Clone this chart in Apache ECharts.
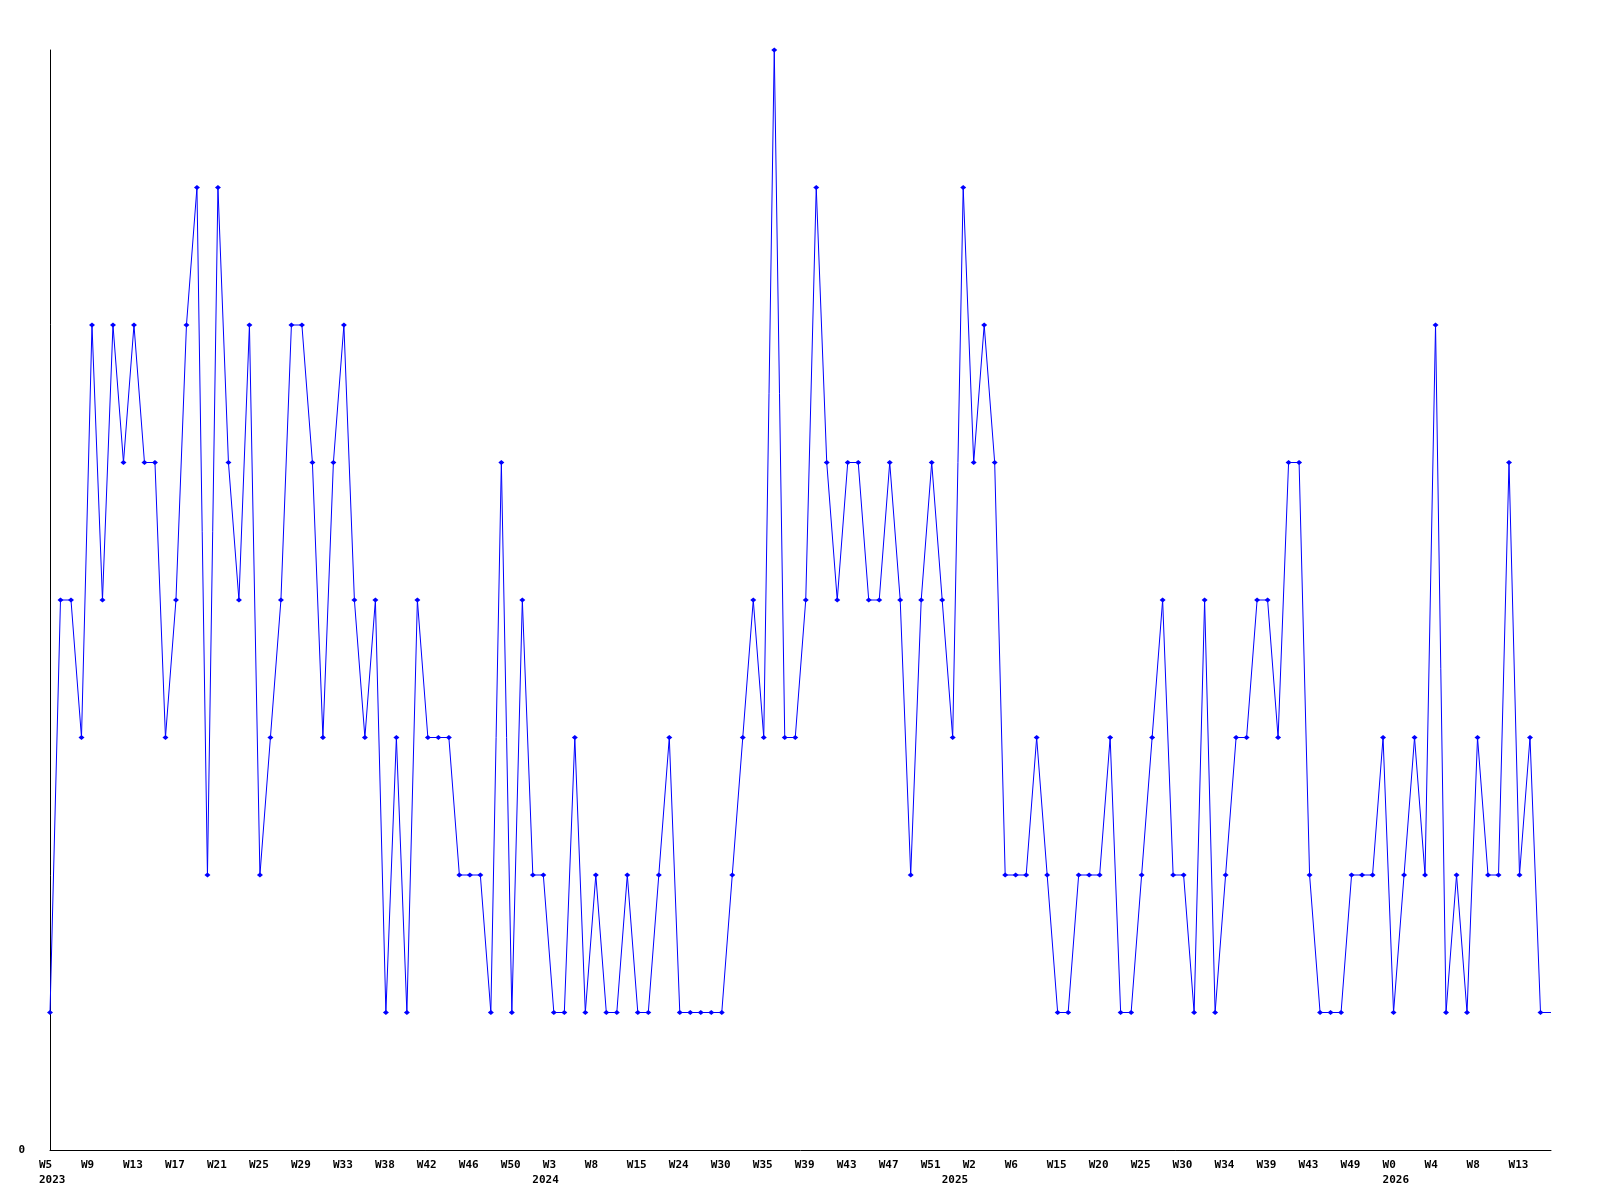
<!DOCTYPE html>
<html>
<head>
<meta charset="utf-8">
<script src="https://cdn.jsdelivr.net/npm/echarts@6/dist/echarts.min.js"></script>
<style>
html,body{margin:0;padding:0;background:#fff;}
#chart{width:1600px;height:1200px;}
</style>
</head>
<body>
<div id="chart"></div>
<script>
// Week numbers of each category
const weeks = [
  5,6,7,8, 9,10,11,12, 13,14,15,16, 17,18,19,20, 21,22,23,24, 25,26,27,28,
  29,30,31,32, 33,34,35,36, 38,39,40,41, 42,43,44,45, 46,47,48,49, 50,51,52,0,
  3,4,5,6, 8,10,12,13, 15,17,19,21, 24,26,27,28, 30,31,32,33, 35,36,37,38,
  39,40,41,42, 43,44,45,46, 47,48,49,50, 51,52,0,1,
  2,3,4,5, 6,8,10,12, 15,17,18,19, 20,21,23,24, 25,26,28,29, 30,31,32,33,
  34,35,37,38, 39,40,41,42, 43,45,47,48, 49,50,51,52,
  0,1,2,3, 4,5,6,7, 8,9,10,12, 13,14,15,16
];
// Year of each category
const years = [].concat(
  Array(47).fill(2023),
  Array(39).fill(2024),
  Array(42).fill(2025),
  Array(16).fill(2026)
);
// Series values
const values = [
  1,4,4,3, 6,4,6,5, 6,5,5,3, 4,6,7,2, 7,5,4,6, 2,3,4,6,
  6,5,3,5, 6,4,3,4, 1,3,1,4, 3,3,3,2, 2,2,1,5, 1,4,2,2,
  1,1,3,1, 2,1,1,2, 1,1,2,3, 1,1,1,1, 1,2,3,4, 3,8,3,3,
  4,7,5,4, 5,5,4,4, 5,4,2,4, 5,4,3,7,
  5,6,5,2, 2,2,3,2, 1,1,2,2, 2,3,1,1, 2,3,4,2, 2,1,4,1,
  2,3,3,4, 4,3,5,5, 2,1,1,1, 2,2,2,3,
  1,2,3,2, 6,1,2,1, 3,2,2,5, 2,3,1,1
];
const yTicks = [0];
const weekLabelStep = 4;

const categories = weeks.map((w, i) => years[i] + '-W' + w);
const seriesData = values.map((v, i) => i === values.length - 1 ? {value: v, symbol: 'none'} : v);
function isYearStart(i) { return i === 0 || years[i] !== years[i - 1]; }

const chart = echarts.init(document.getElementById('chart'), null, {renderer: 'canvas'});
const font = 'DejaVu Sans Mono';
chart.setOption({
  animation: false,
  backgroundColor: '#ffffff',
  grid: {left: 50, right: 49, top: 50, bottom: 50, containLabel: false},
  xAxis: {
    type: 'category',
    data: categories,
    boundaryGap: false,
    axisLine: {show: true, lineStyle: {color: '#000', width: 1}},
    axisTick: {show: false},
    splitLine: {show: false},
    axisLabel: {
      interval: function (idx) { return idx % weekLabelStep === 0 || isYearStart(idx); },
      hideOverlap: false,
      margin: 8,
      color: '#000',
      fontFamily: font,
      fontWeight: 'bold',
      fontSize: 11,
      lineHeight: 15,
      align: 'left',
      verticalAlign: 'top',
      padding: [0, 0, 0, -11],
      formatter: function (val, idx) {
        const w = idx % weekLabelStep === 0 ? 'W' + weeks[idx] : ' ';
        if (isYearStart(idx)) return w + '\n' + years[idx];
        return w;
      }
    }
  },
  yAxis: {
    type: 'value',
    min: 0,
    max: 8,
    interval: 1,
    axisLine: {show: true, lineStyle: {color: '#000', width: 1}},
    axisTick: {show: false},
    splitLine: {show: false},
    axisLabel: {
      margin: 25,
      color: '#000',
      fontFamily: font,
      fontWeight: 'bold',
      fontSize: 11,
      formatter: function (v) { return yTicks.indexOf(v) >= 0 ? String(v) : ''; }
    }
  },
  series: [{
    type: 'line',
    data: seriesData,
    symbol: 'diamond',
    symbolSize: [6, 5],
    showAllSymbol: true,
    lineStyle: {color: '#0000ff', width: 1},
    itemStyle: {color: '#0000ff'},
    clip: false
  }]
});
</script>
</body>
</html>
